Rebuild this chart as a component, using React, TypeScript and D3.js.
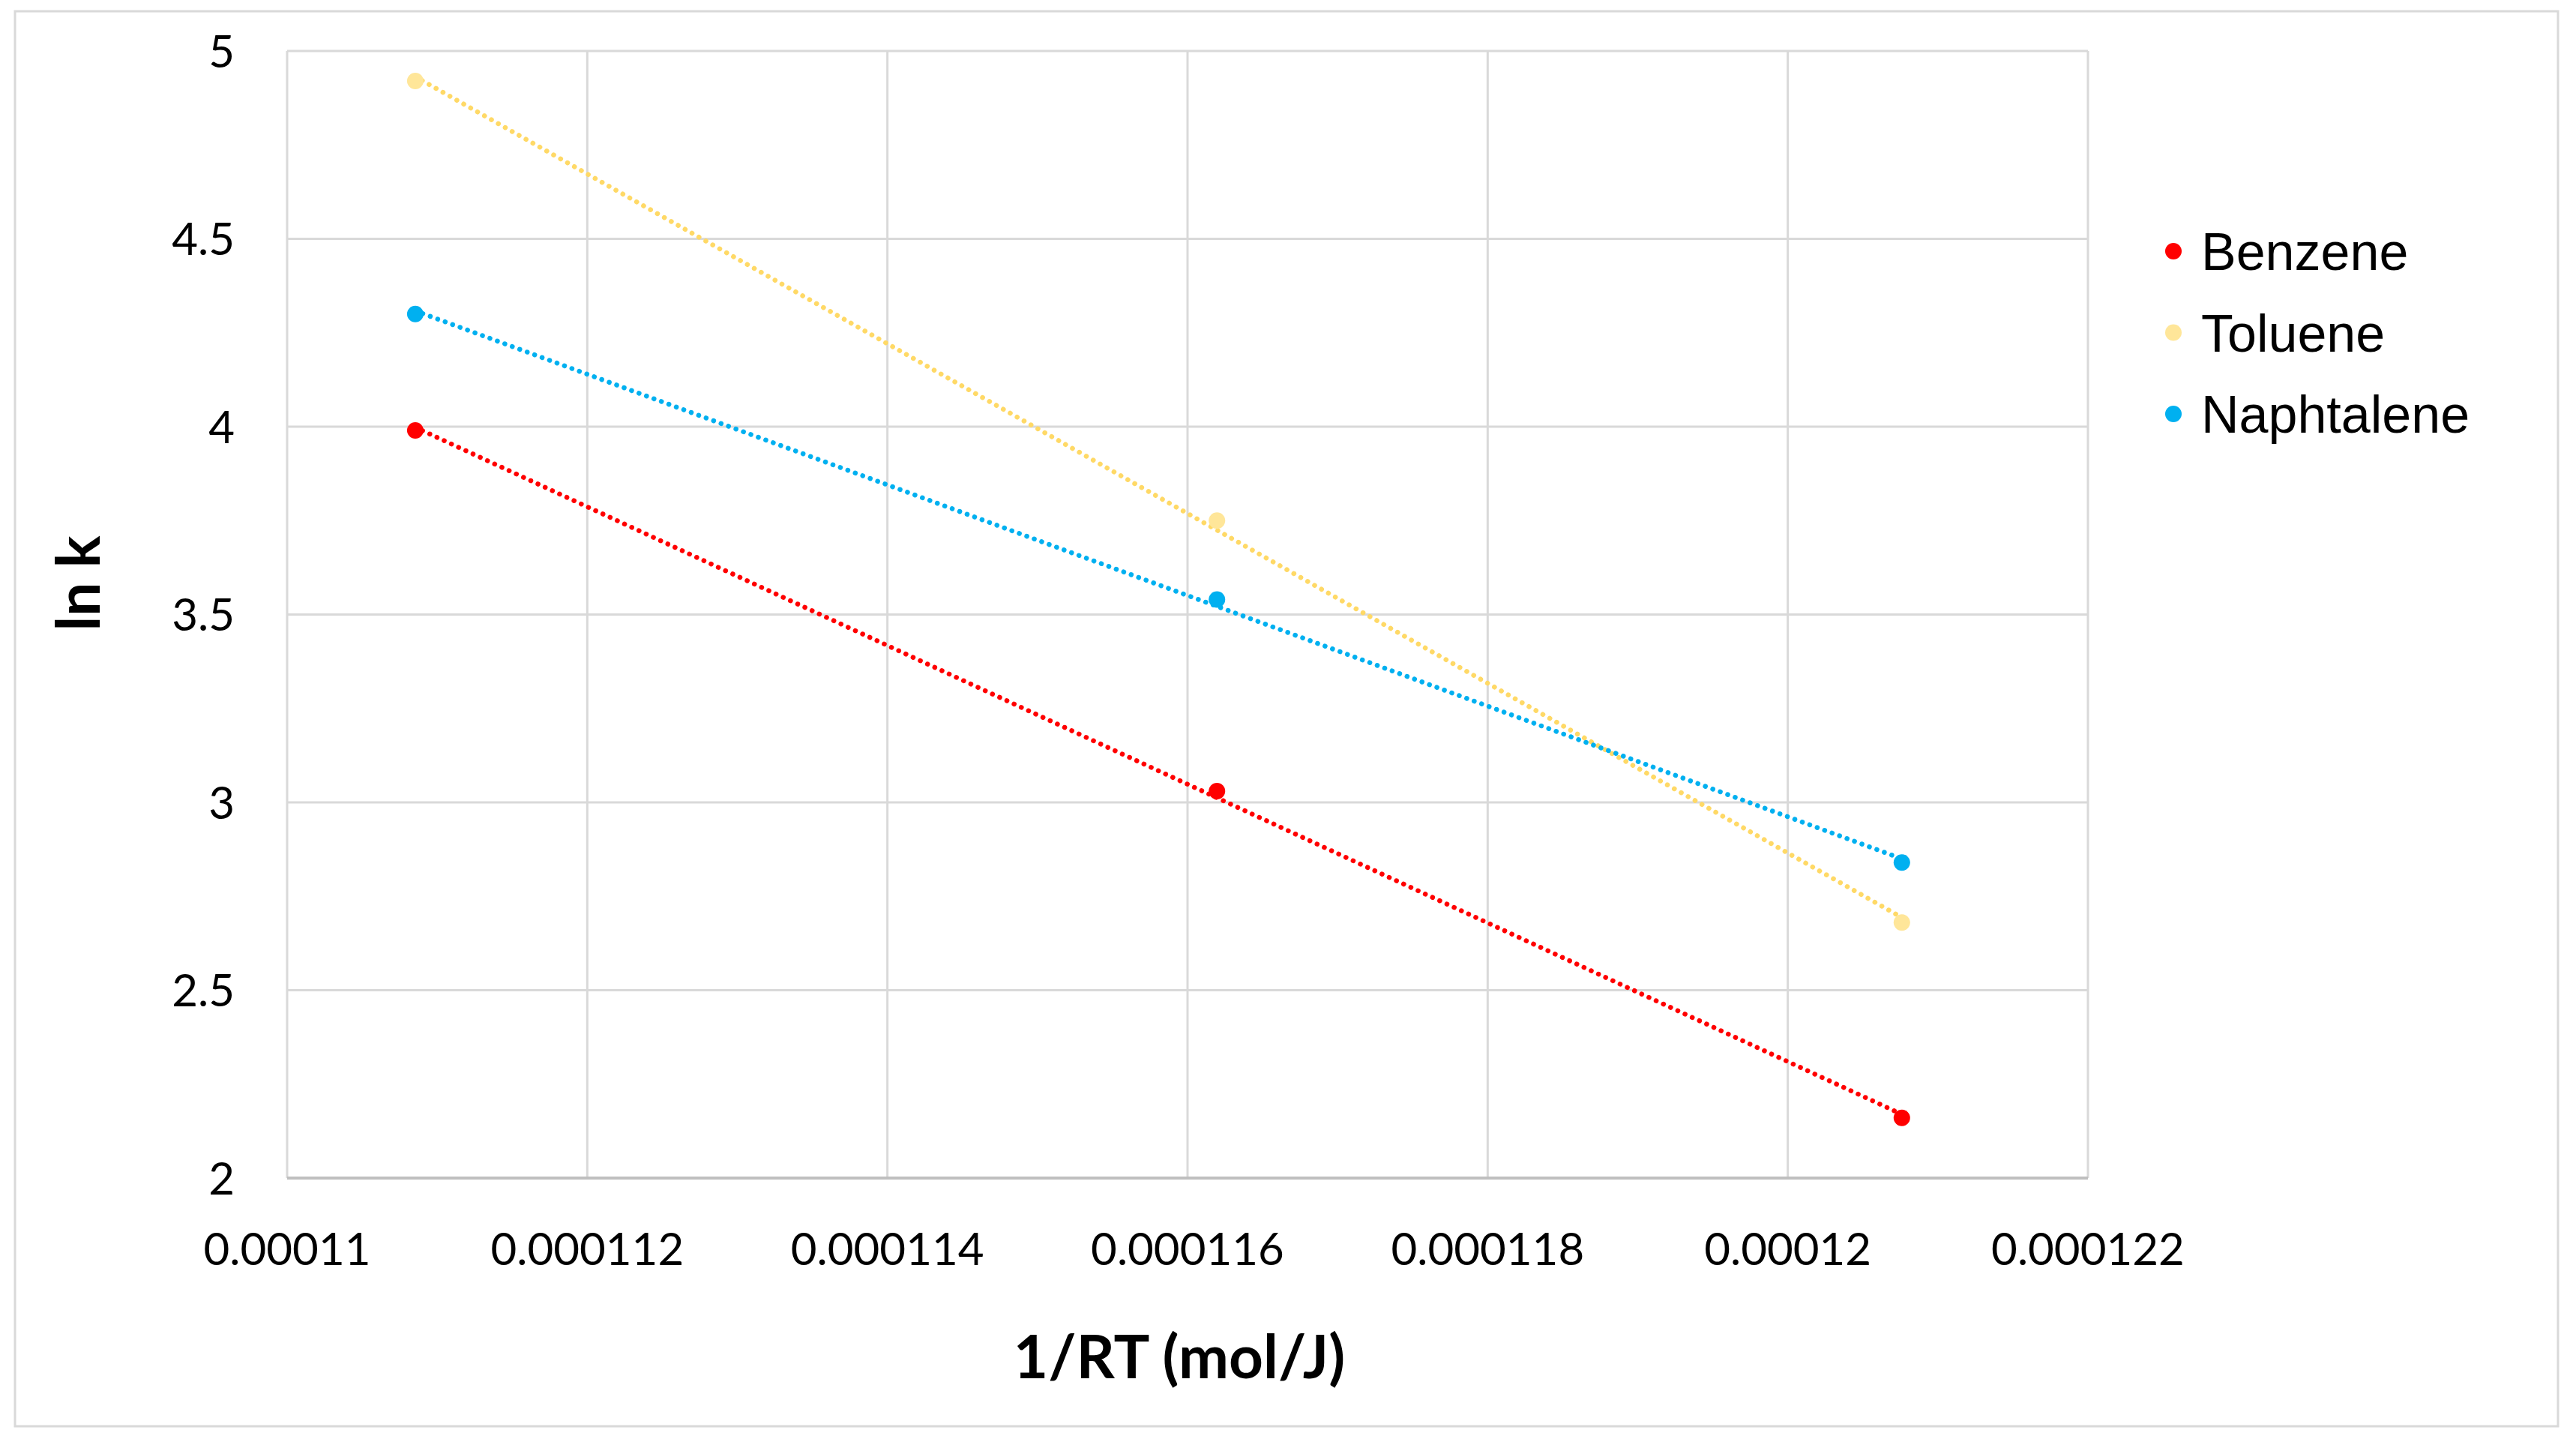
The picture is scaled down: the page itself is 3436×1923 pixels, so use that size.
import React from 'react';
import * as d3 from 'd3';

const invRT = [0.000110854, 0.000116196, 0.00012076];
const benzene = [3.99, 3.03, 2.16];
const toluene = [4.92, 3.75, 2.68];
const naphtalene = [4.30, 3.54, 2.84];

const seriesNames = ['Benzene', 'Toluene', 'Naphtalene'];
const seriesValues = [benzene, toluene, naphtalene];
const markerColors = ['#ff0000', '#ffe699', '#00b0f0'];
const lineColors = ['#ff0000', '#ffd966', '#00b0f0'];

const xTicks = [0.00011, 0.000112, 0.000114, 0.000116, 0.000118, 0.00012, 0.000122];
const xTickLabels = ['0.00011', '0.000112', '0.000114', '0.000116', '0.000118', '0.00012', '0.000122'];
const yTicks = [2, 2.5, 3, 3.5, 4, 4.5, 5];
const yTickLabels = ['2', '2.5', '3', '3.5', '4', '4.5', '5'];

const width = 3436;
const height = 1923;
const margin = { top: 68, right: 651, bottom: 352, left: 383 };

// least squares fit, like Excel's linear trendline
const fit = (xs: number[], ys: number[]) => {
  const mx = d3.mean(xs)!;
  const my = d3.mean(ys)!;
  const slope = d3.sum(xs, (x, i) => (x - mx) * (ys[i] - my)) / d3.sum(xs, x => (x - mx) ** 2);
  return (x: number) => my + slope * (x - mx);
};

const App: React.FC = () => {
  const x = d3.scaleLinear()
    .domain([0.00011, 0.000122])
    .range([margin.left, width - margin.right]);
  const y = d3.scaleLinear()
    .domain([2, 5])
    .range([height - margin.bottom, margin.top]);

  const tickFont = 'Lato, "Open Sans", sans-serif';

  return (
    <div style={{ position: 'absolute', left: 0, top: 0 }}>
      <svg width={width} height={height} viewBox={`0 0 ${width} ${height}`}>
        <rect x={0} y={0} width={width} height={height} fill="#fff" />
        <rect x={20} y={15} width={3392} height={1887} fill="#fff" stroke="#d9d9d9" strokeWidth={3} />

        {/* grid */}
        {xTicks.map((t, i) => (
          <line key={'gx' + i} x1={x(t)} x2={x(t)} y1={y(5)} y2={y(2)} stroke="#d9d9d9" strokeWidth={3} />
        ))}
        {yTicks.map((t, i) => (
          <line key={'gy' + i} x1={x(0.00011)} x2={x(0.000122)} y1={y(t)} y2={y(t)}
            stroke={t === 2 ? '#bfbfbf' : '#d9d9d9'} strokeWidth={t === 2 ? 4 : 3} />
        ))}

        {/* tick labels */}
        {xTicks.map((t, i) => (
          <text key={'tx' + i} x={x(t)} y={1687} textAnchor="middle" fontFamily={tickFont}
            fontSize={60} fill="#000">{xTickLabels[i]}</text>
        ))}
        {yTicks.map((t, i) => (
          <text key={'ty' + i} x={313} y={y(t)} dy="0.36em" textAnchor="end" fontFamily={tickFont}
            fontSize={60} fill="#000">{yTickLabels[i]}</text>
        ))}

        {/* trendlines */}
        {seriesValues.map((vals, i) => {
          const f = fit(invRT, vals);
          const ends = [invRT[0], invRT[invRT.length - 1]];
          const path = d3.line<number>().x(d => x(d)).y(d => y(f(d)))(ends) ?? '';
          return (
            <path key={'tl' + i} d={path} fill="none" stroke={lineColors[i]} strokeWidth={6.5}
              strokeLinecap="round" strokeDasharray="0.1 10.5" />
          );
        })}

        {/* points */}
        {seriesValues.map((vals, i) => vals.map((v, j) => (
          <circle key={`p${i}-${j}`} cx={x(invRT[j])} cy={y(v)} r={11} fill={markerColors[i]} />
        )))}

        {/* axis titles */}
        <text x={1573} y={1838} textAnchor="middle" fontFamily={tickFont} fontWeight="bold"
          fontSize={80} fill="#000">1/RT (mol/J)</text>
        <text transform={`translate(133,778) rotate(-90)`} textAnchor="middle" fontFamily={tickFont}
          fontWeight="bold" fontSize={80} fill="#000">ln k</text>

        {/* legend */}
        {seriesNames.map((name, i) => (
          <g key={'lg' + i} transform={`translate(2899,${335 + i * 108.5})`}>
            <circle cx={0} cy={0} r={11} fill={markerColors[i]} />
            <text x={37} y={0} dy="0.36em" fontFamily='"Liberation Sans", Arial, sans-serif'
              fontSize={70} fill="#000">{name}</text>
          </g>
        ))}
      </svg>
    </div>
  );
};

export default App;
